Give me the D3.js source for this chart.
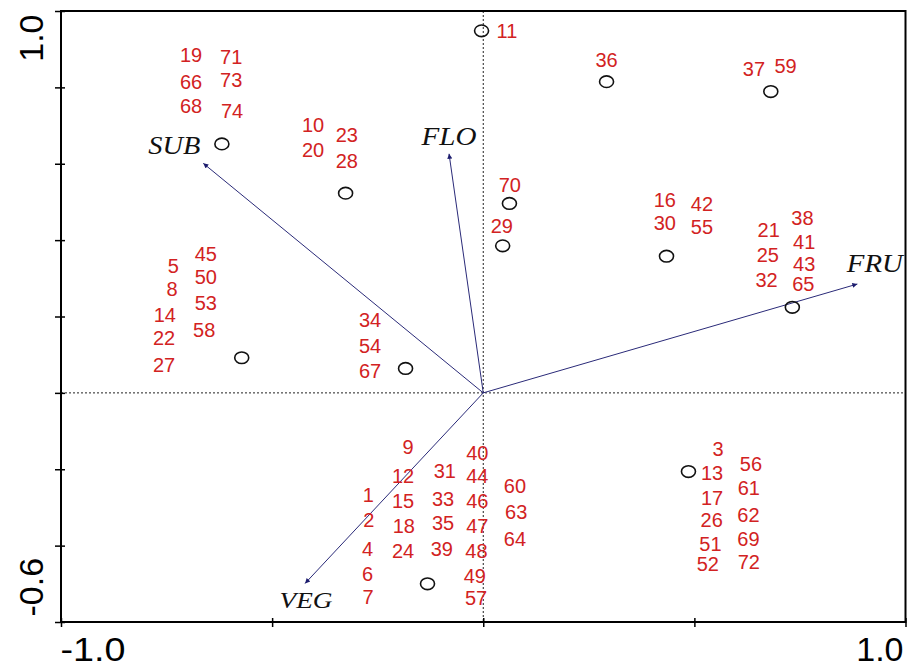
<!DOCTYPE html>
<html>
<head>
<meta charset="utf-8">
<script src="https://cdn.jsdelivr.net/npm/d3@7"></script>
<style>
  html, body { margin: 0; padding: 0; background: #fff; }
  svg { display: block; }
</style>
</head>
<body>
<svg id="chart" width="908" height="667"></svg>
<script>
// Site scores (axis 1, axis 2), labelled by site number
const siteLabels = [19, 71, 66, 73, 68, 74, 10, 23, 20, 28, 11, 70, 29, 36, 37, 59,
  16, 42, 30, 55, 21, 38, 41, 25, 43, 32, 65,
  5, 45, 50, 8, 53, 14, 58, 22, 27, 34, 54, 67,
  9, 40, 12, 31, 44, 60, 1, 15, 33, 46, 63, 2, 18, 35, 47, 64, 4, 24, 39, 48, 6, 49, 7, 57,
  3, 13, 56, 17, 61, 26, 62, 51, 69, 52, 72];
const siteAxis1 = [-0.692, -0.597, -0.692, -0.597, -0.692, -0.595, -0.403, -0.323, -0.403, -0.323,
  0.056, 0.063, 0.044, 0.292, 0.641, 0.716,
  0.430, 0.518, 0.430, 0.518, 0.676, 0.756, 0.760, 0.674, 0.760, 0.671, 0.758,
  -0.734, -0.657, -0.657, -0.737, -0.657, -0.754, -0.661, -0.756, -0.756, -0.268, -0.268, -0.268,
  -0.178, -0.014, -0.190, -0.091, -0.014, 0.075, -0.272, -0.190, -0.095, -0.014, 0.078,
  -0.271, -0.188, -0.095, -0.014, 0.075, -0.274, -0.190, -0.098, -0.016, -0.274, -0.020, -0.273, -0.017,
  0.556, 0.542, 0.634, 0.542, 0.629, 0.541, 0.628, 0.538, 0.628, 0.532, 0.629];
const siteAxis2 = [0.885, 0.880, 0.814, 0.819, 0.751, 0.738, 0.702, 0.675, 0.636, 0.607,
  0.948, 0.544, 0.437, 0.872, 0.848, 0.856,
  0.505, 0.495, 0.445, 0.434, 0.427, 0.458, 0.395, 0.361, 0.338, 0.296, 0.285,
  0.332, 0.364, 0.304, 0.272, 0.235, 0.204, 0.165, 0.144, 0.073, 0.191, 0.123, 0.057,
  -0.142, -0.157, -0.218, -0.205, -0.218, -0.244, -0.267, -0.283, -0.278, -0.283, -0.312,
  -0.333, -0.349, -0.341, -0.349, -0.383, -0.409, -0.414, -0.409, -0.414, -0.474, -0.479, -0.534, -0.537,
  -0.147, -0.210, -0.186, -0.275, -0.249, -0.333, -0.320, -0.396, -0.383, -0.448, -0.443];

// Group centroids (open circles)
const centroidAxis1 = [-0.004, 0.292, 0.681, -0.619, -0.326, 0.062, 0.046, 0.434, 0.732, -0.572, -0.184, 0.486, -0.132];
const centroidAxis2 = [0.948, 0.815, 0.789, 0.652, 0.523, 0.496, 0.385, 0.358, 0.224, 0.092, 0.064, -0.206, -0.500];

// Environmental variable vectors
const envNames = ["SUB", "FLO", "FRU", "VEG"];
const envAxis1 = [-0.663, -0.081, 0.886, -0.422];
const envAxis2 = [0.601, 0.626, 0.285, -0.499];

// Axis ticks
const xTicks = [-1.0, -0.5, 0, 0.5, 1.0];
const yTicks = [-0.6, -0.4, -0.2, 0, 0.2, 0.4, 0.6, 0.8, 1.0];
const xTickLabels = ["-1.0", "", "", "", "1.0"];
const yTickLabels = ["-0.6", "", "", "", "", "", "", "", "1.0"];

const svg = d3.select("#chart");
const plotLeft = 61, plotRight = 905.5, plotTop = 11, plotBottom = 622;

const x = d3.scaleLinear().domain([-1, 1]).range([plotLeft, plotRight]);
const y = d3.scaleLinear().domain([-0.6, 1.0]).range([plotBottom, plotTop]);

const defs = svg.append("defs");
defs.append("marker")
  .attr("id", "arrow")
  .attr("viewBox", "0 0 10 10")
  .attr("refX", 10).attr("refY", 5)
  .attr("markerWidth", 7).attr("markerHeight", 5)
  .attr("markerUnits", "userSpaceOnUse")
  .attr("orient", "auto")
  .append("path")
  .attr("d", "M0,0 L10,5 L0,10 Z")
  .attr("fill", "#1c1c6e");

// Dotted zero lines
svg.append("line")
  .attr("x1", x(0)).attr("x2", x(0))
  .attr("y1", plotTop).attr("y2", plotBottom)
  .attr("stroke", "#222").attr("stroke-width", 1)
  .attr("stroke-dasharray", "2,2");
svg.append("line")
  .attr("x1", plotLeft).attr("x2", plotRight)
  .attr("y1", y(0)).attr("y2", y(0))
  .attr("stroke", "#222").attr("stroke-width", 1)
  .attr("stroke-dasharray", "2,2");

// Environmental vectors
const env = envNames.map((n, i) => ({ name: n, a1: envAxis1[i], a2: envAxis2[i] }));
svg.append("g").selectAll("line")
  .data(env).join("line")
  .attr("x1", x(0)).attr("y1", y(0))
  .attr("x2", d => x(d.a1)).attr("y2", d => y(d.a2))
  .attr("stroke", "#2a2a78").attr("stroke-width", 1)
  .attr("marker-end", "url(#arrow)");

// Vector name placement relative to the arrow tip
const envLabelPlace = {
  SUB: { dx: -3, dy: -9, anchor: "end", len: 52, size: 25 },
  FLO: { dx: 0, dy: -9, anchor: "middle", len: 55, size: 25 },
  FRU: { dx: -10.5, dy: -12, anchor: "start", len: 56, size: 25 },
  VEG: { dx: 1, dy: 25, anchor: "middle", len: 53, size: 23 }
};
svg.append("g").selectAll("text")
  .data(env).join("text")
  .attr("x", d => x(d.a1) + envLabelPlace[d.name].dx)
  .attr("y", d => y(d.a2) + envLabelPlace[d.name].dy)
  .attr("text-anchor", d => envLabelPlace[d.name].anchor)
  .attr("textLength", d => envLabelPlace[d.name].len)
  .attr("lengthAdjust", "spacingAndGlyphs")
  .attr("font-family", "'Liberation Serif', 'Times New Roman', serif")
  .attr("font-style", "italic")
  .attr("font-size", d => envLabelPlace[d.name].size)
  .attr("fill", "#111")
  .text(d => d.name);

// Centroid circles
const centroids = centroidAxis1.map((v, i) => ({ a1: v, a2: centroidAxis2[i] }));
svg.append("g").selectAll("ellipse")
  .data(centroids).join("ellipse")
  .attr("cx", d => x(d.a1)).attr("cy", d => y(d.a2))
  .attr("rx", 7).attr("ry", 5.8)
  .attr("fill", "none").attr("stroke", "#111").attr("stroke-width", 1.6);

// Site number labels
const sites = siteLabels.map((s, i) => ({ id: s, a1: siteAxis1[i], a2: siteAxis2[i] }));
svg.append("g").selectAll("text")
  .data(sites).join("text")
  .attr("x", d => x(d.a1)).attr("y", d => y(d.a2))
  .attr("dy", "0.35em")
  .attr("text-anchor", "middle")
  .attr("font-family", "'Liberation Sans', Arial, sans-serif")
  .attr("font-size", 20)
  .attr("fill", "#d22222")
  .text(d => d.id);

// Frame
svg.append("rect")
  .attr("x", plotLeft).attr("y", plotTop)
  .attr("width", plotRight - plotLeft).attr("height", plotBottom - plotTop)
  .attr("fill", "none").attr("stroke", "#000").attr("stroke-width", 2);

// Bottom axis
const xAxis = svg.append("g")
  .attr("transform", `translate(0,${plotBottom})`)
  .call(d3.axisBottom(x).tickValues(xTicks).tickSize(5)
    .tickFormat((d, i) => xTickLabels[i]));
xAxis.select(".domain").remove();
xAxis.selectAll(".tick line").attr("y1", -4).attr("y2", 5).attr("stroke-width", 1.5);
xAxis.selectAll(".tick text")
  .attr("font-family", "'Liberation Sans', Arial, sans-serif")
  .attr("font-size", 34)
  .attr("fill", "#000")
  .attr("dy", null)
  .attr("y", 39)
  .attr("x", (d, i) => i === 0 ? -1 : (i === xTicks.length - 1 ? -2.5 : 0))
  .attr("text-anchor", (d, i) => i === 0 ? "start" : (i === xTicks.length - 1 ? "end" : "middle"))
  .filter((d, i) => i === 0)
  .attr("textLength", 65)
  .attr("lengthAdjust", "spacingAndGlyphs");

// Left axis
const yAxis = svg.append("g")
  .attr("transform", `translate(${plotLeft},0)`)
  .call(d3.axisLeft(y).tickValues(yTicks).tickSize(6)
    .tickFormat((d, i) => yTickLabels[i]));
yAxis.select(".domain").remove();
yAxis.selectAll(".tick line").attr("x1", 4).attr("x2", -6).attr("stroke-width", 1.5);
yAxis.selectAll(".tick text")
  .attr("font-family", "'Liberation Sans', Arial, sans-serif")
  .attr("font-size", 34)
  .attr("fill", "#000")
  .attr("dy", null)
  .attr("x", null)
  .attr("transform", (d, i) => i === 0 ? "translate(-18,-6) rotate(-90)" : "translate(-18,3) rotate(-90)")
  .attr("text-anchor", (d, i) => i === 0 ? "start" : "end");
</script>
</body>
</html>
